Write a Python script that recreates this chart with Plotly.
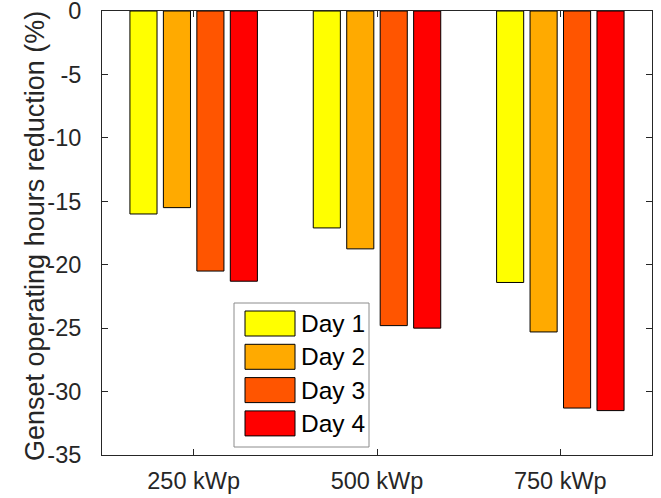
import plotly.graph_objects as go

categories = ["250 kWp", "500 kWp", "750 kWp"]
series_names = ["Day 1", "Day 2", "Day 3", "Day 4"]
day1 = [-16.0, -17.1, -21.4]
day2 = [-15.5, -18.75, -25.3]
day3 = [-20.5, -24.8, -31.3]
day4 = [-21.3, -25.0, -31.5]
series_values = [day1, day2, day3, day4]
colors = ["#FFFF00", "#FFAA00", "#FF5500", "#FF0000"]
y_tick_vals = [0, -5, -10, -15, -20, -25, -30, -35]
y_tick_text = ["0", "-5", "-10", "-15", "-20", "-25", "-30", "-35"]
x_positions = [1, 2, 3]
y_title = "Genset operating hours reduction (%)"

FONT = "Liberation Sans, Arial, sans-serif"
TXT = "#262626"
TICK_SIZE = 23.5
TITLE_SIZE = 27
LEG_SIZE = 24.5

fig = go.Figure()
for name, vals, col in zip(series_names, series_values, colors):
    fig.add_trace(go.Bar(
        x=x_positions, y=vals, name=name,
        marker=dict(color=col, line=dict(color="black", width=1)),
        showlegend=False,
    ))

W, H = 661, 498
L, R, T, B = 102, 9, 11, 43
pw, ph = W - L - R, H - T - B

def px(xp):
    return (xp - L) / pw

def py(yp):
    return (H - B - yp) / ph

shapes = []
annotations = []
# custom legend box
shapes.append(dict(type="rect", xref="paper", yref="paper",
                   x0=px(234), x1=px(369), y0=py(447), y1=py(303),
                   line=dict(color="#8c8c8c", width=1), fillcolor="white", layer="above"))
for i, (name, col) in enumerate(zip(series_names, colors)):
    top = 311 + i * 33.3
    shapes.append(dict(type="rect", xref="paper", yref="paper",
                       x0=px(245), x1=px(295), y0=py(top + 25), y1=py(top),
                       line=dict(color="black", width=1), fillcolor=col, layer="above"))
    annotations.append(dict(xref="paper", yref="paper", x=px(299), y=py(top + 12.5),
                            text=name, showarrow=False, xanchor="left", yanchor="middle",
                            font=dict(family=FONT, size=LEG_SIZE, color="black")))

# y-axis title as rotated text
annotations.append(dict(xref="paper", yref="paper", x=px(35), y=py(236),
                        text=y_title, showarrow=False, textangle=-90,
                        xanchor="center", yanchor="middle",
                        font=dict(family=FONT, size=TITLE_SIZE, color=TXT)))

fig.update_layout(
    width=W, height=H,
    margin=dict(l=L, r=R, t=T, b=B, autoexpand=False),
    paper_bgcolor="white", plot_bgcolor="white",
    barmode="group", bargap=0.27, bargroupgap=0.19,
    font=dict(family=FONT, size=TICK_SIZE, color=TXT),
    shapes=shapes, annotations=annotations,
    xaxis=dict(range=[0.5, 3.5], tickvals=x_positions, ticktext=categories,
               ticks="inside", ticklen=6, tickcolor=TXT, showline=True, linecolor=TXT,
               linewidth=1, mirror="ticks", showgrid=False, zeroline=False, automargin=False,
               tickfont=dict(family=FONT, size=TICK_SIZE, color=TXT), ticklabelstandoff=5,
               ticklabeloverflow="allow"),
    yaxis=dict(range=[-35, 0], tickvals=y_tick_vals, ticktext=y_tick_text,
               ticks="inside", ticklen=6, tickcolor=TXT, showline=True, linecolor=TXT,
               linewidth=1, mirror="ticks", showgrid=False, zeroline=False, automargin=False,
               tickfont=dict(family=FONT, size=TICK_SIZE, color=TXT), ticklabelstandoff=15,
               ticklabeloverflow="allow"),
)

fig.write_html("out.html")
